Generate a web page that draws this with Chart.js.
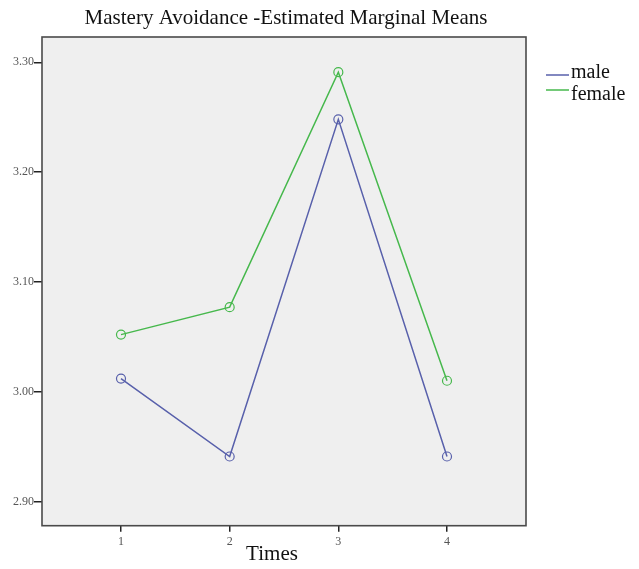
<!DOCTYPE html>
<html><head><meta charset="utf-8">
<script src="https://cdn.jsdelivr.net/npm/chart.js@4/dist/chart.umd.min.js"></script>
<style>html,body{margin:0;padding:0;background:#fff}#w{width:639px;height:569px}</style>
</head><body><div id="w"><canvas id="c" width="639" height="569"></canvas></div>
<script>
const times = [1, 2, 3, 4];
const maleValues = [3.012, 2.941, 3.248, 2.941];
const femaleValues = [3.052, 3.077, 3.291, 3.010];
const yTicks = [2.90, 3.00, 3.10, 3.20, 3.30];
const seriesNames = ['male', 'female'];
const chartTitle = 'Mastery Avoidance -Estimated Marginal Means';
const xTitle = 'Times';

const SERIF = '"Liberation Serif", "DejaVu Serif", serif';
const maleColor = '#5860ab';
const femaleColor = '#46b84c';

const decor = {
  id: 'decor',
  beforeDatasetsDraw(chart) {
    const {ctx, chartArea: a} = chart;
    ctx.save();
    ctx.fillStyle = '#efefef';
    ctx.fillRect(a.left, a.top, a.right - a.left, a.bottom - a.top);
    ctx.strokeStyle = '#4a4a4a';
    ctx.lineWidth = 1.6;
    ctx.strokeRect(a.left, a.top, a.right - a.left, a.bottom - a.top);
    ctx.restore();
  },
  afterDraw(chart) {
    const {ctx, chartArea: a} = chart;
    ctx.save();
    ctx.fillStyle = '#111';
    ctx.textBaseline = 'middle';
    ctx.textAlign = 'center';
    ctx.font = '21px ' + SERIF;
    ctx.fillText(chartTitle, (a.left + a.right) / 2 + 2, 18);
    ctx.font = '21px ' + SERIF;
    ctx.fillText(xTitle, 272, 554);
    // legend
    ctx.textAlign = 'left';
    ctx.font = '20px ' + SERIF;
    chart.data.datasets.forEach((ds, i) => {
      const ty = 73 + i * 22;
      const ly = 75 + i * 15;
      ctx.strokeStyle = ds.borderColor;
      ctx.lineWidth = 1.5;
      ctx.beginPath();
      ctx.moveTo(546, ly);
      ctx.lineTo(569, ly);
      ctx.stroke();
      ctx.fillStyle = '#111';
      ctx.fillText(ds.label, 571, ty);
    });
    ctx.restore();
  }
};

const mk = (label, vals, color) => ({
  label,
  data: times.map((t, i) => ({x: t, y: vals[i]})),
  borderColor: color,
  backgroundColor: 'rgba(0,0,0,0)',
  borderWidth: 1.5,
  pointRadius: 4.5,
  pointBorderWidth: 1.2,
  pointBorderColor: color,
  pointBackgroundColor: 'rgba(0,0,0,0)',
  tension: 0
});

new Chart(document.getElementById('c'), {
  type: 'line',
  data: {
    datasets: [
      mk(seriesNames[0], maleValues, maleColor),
      mk(seriesNames[1], femaleValues, femaleColor)
    ]
  },
  plugins: [decor],
  options: {
    responsive: false,
    animation: false,
    devicePixelRatio: 1,
    layout: {padding: {left: 0, right: 113, top: 37, bottom: 0}},
    plugins: {legend: {display: false}, title: {display: false}, tooltip: {enabled: false}},
    scales: {
      x: {
        type: 'linear',
        min: 0.273, max: 4.727,
        afterBuildTicks(s) { s.ticks = times.map(v => ({value: v})); },
        afterFit(s) { s.height = 43.3; },
        grid: {drawOnChartArea: false, drawTicks: true, tickLength: 6, color: '#222', lineWidth: 1.5},
        border: {display: false},
        ticks: {color: '#555', font: {family: SERIF, size: 12}, padding: 3, callback: v => String(v)}
      },
      y: {
        type: 'linear',
        min: 2.878, max: 3.323,
        afterBuildTicks(s) { s.ticks = yTicks.map(v => ({value: v})); },
        afterFit(s) { s.width = 42; },
        grid: {drawOnChartArea: false, drawTicks: true, tickLength: 8, color: '#222', lineWidth: 1.5},
        border: {display: false},
        ticks: {color: '#555', font: {family: SERIF, size: 12}, padding: 0, callback: v => Number(v).toFixed(2)}
      }
    }
  }
});
</script></body></html>
